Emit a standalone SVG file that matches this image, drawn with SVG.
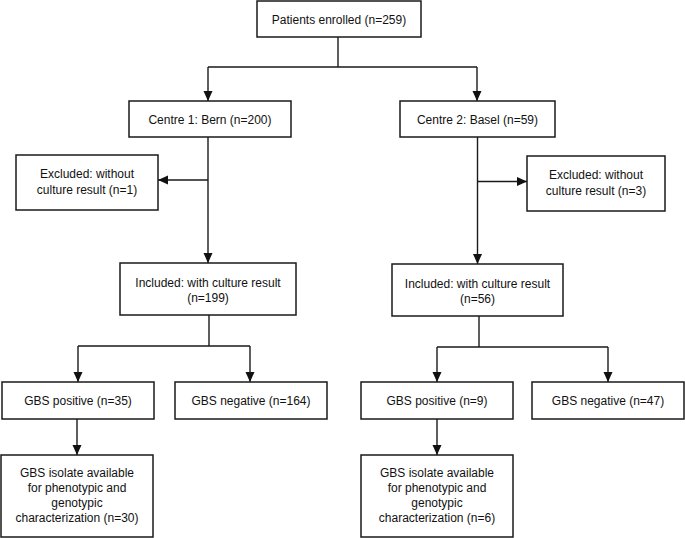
<svg xmlns="http://www.w3.org/2000/svg" width="685" height="538" viewBox="0 0 685 538">
<defs>
<marker id="ah" markerUnits="userSpaceOnUse" markerWidth="10" markerHeight="10" viewBox="0 0 10 10" refX="10" refY="5" orient="auto">
<path d="M0,0.5 L10,5 L0,9.5 Z" fill="#111"/>
</marker>
</defs>
<style>
rect{fill:#fff;stroke:#1a1a1a;stroke-width:1.5}
text{font-family:"Liberation Sans",Arial,sans-serif;font-size:12px;fill:#111;text-anchor:middle}
.c{fill:none;stroke:#1a1a1a;stroke-width:1.4}
</style>
<rect x="0" y="0" width="685" height="538" style="fill:#fff;stroke:none"/>
<g id="connectors">
<path class="c" d="M338,37 V67 M208,67 H477"/>
<path class="c" d="M208,67 V101" marker-end="url(#ah)"/>
<path class="c" d="M477,67 V101" marker-end="url(#ah)"/>
<path class="c" d="M208,137 V263" marker-end="url(#ah)"/>
<path class="c" d="M208,180 H158" marker-end="url(#ah)"/>
<path class="c" d="M477.5,137 V264" marker-end="url(#ah)"/>
<path class="c" d="M477.5,181.5 H527" marker-end="url(#ah)"/>
<path class="c" d="M209,315 V346 M78,346 H250"/>
<path class="c" d="M78,346 V382" marker-end="url(#ah)"/>
<path class="c" d="M250,346 V382" marker-end="url(#ah)"/>
<path class="c" d="M77,419 V455" marker-end="url(#ah)"/>
<path class="c" d="M479,316 V347 M437,347 H608"/>
<path class="c" d="M437,347 V382" marker-end="url(#ah)"/>
<path class="c" d="M608,347 V382" marker-end="url(#ah)"/>
<path class="c" d="M437,419 V455" marker-end="url(#ah)"/>
</g>
<g id="enrolled"><rect x="257" y="1" width="164" height="36"/><text x="339" y="23.5">Patients enrolled (n=259)</text></g>
<g id="bern"><rect x="129" y="101" width="162" height="36"/><text x="210" y="123.5">Centre 1: Bern (n=200)</text></g>
<g id="basel"><rect x="400" y="101" width="155" height="36"/><text x="477.5" y="123.5">Centre 2: Basel (n=59)</text></g>
<g id="excl-bern"><rect x="16" y="155" width="142" height="55"/><text x="87" y="178">Excluded: without</text><text x="87" y="193.5">culture result (n=1)</text></g>
<g id="excl-basel"><rect x="527" y="156" width="138" height="55"/><text x="596" y="179">Excluded: without</text><text x="596" y="194.5">culture result (n=3)</text></g>
<g id="incl-bern"><rect x="120" y="263" width="176" height="52"/><text x="208" y="287">Included: with culture result</text><text x="208" y="302">(n=199)</text></g>
<g id="incl-basel"><rect x="392" y="264" width="171" height="52"/><text x="477.5" y="288">Included: with culture result</text><text x="477.5" y="303">(n=56)</text></g>
<g id="pos-bern"><rect x="2" y="382" width="152" height="37"/><text x="78" y="405">GBS positive (n=35)</text></g>
<g id="neg-bern"><rect x="175" y="382" width="152" height="37"/><text x="251" y="405">GBS negative (n=164)</text></g>
<g id="pos-basel"><rect x="361" y="382" width="152" height="37"/><text x="437" y="405">GBS positive (n=9)</text></g>
<g id="neg-basel"><rect x="532" y="382" width="152" height="37"/><text x="608" y="405">GBS negative (n=47)</text></g>
<g id="iso-bern"><rect x="1" y="455" width="152" height="82"/><text x="77" y="477">GBS isolate available</text><text x="77" y="492">for phenotypic and</text><text x="77" y="507">genotypic</text><text x="77" y="522">characterization (n=30)</text></g>
<g id="iso-basel"><rect x="361" y="455" width="152" height="82"/><text x="437" y="477">GBS isolate available</text><text x="437" y="492">for phenotypic and</text><text x="437" y="507">genotypic</text><text x="437" y="522">characterization (n=6)</text></g>
</svg>
